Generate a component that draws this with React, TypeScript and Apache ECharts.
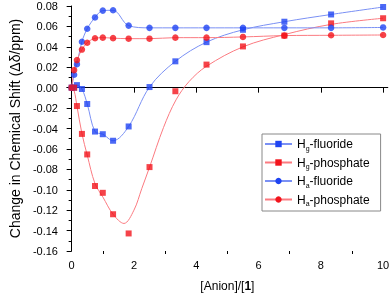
import React, { useEffect, useRef } from 'react';
import * as echarts from 'echarts';

const xValues = [0, 0.08, 0.17, 0.33, 0.5, 0.75, 1.0, 1.33, 1.83, 2.5, 3.33, 4.33, 5.5, 6.83, 8.33, 10];
const hgFluoride = [0, 0, 0.0025, -0.0013, -0.016, -0.043, -0.0456, -0.052, -0.038, 0.0006, 0.0258, 0.0446, 0.0567, 0.0646, 0.0717, 0.079];
const hgPhosphate = [0, 0, -0.018, -0.0453, -0.0654, -0.0963, -0.103, -0.124, -0.1428, -0.0778, -0.0035, 0.0226, 0.0404, 0.051, 0.063, 0.068];
const haFluoride = [0, 0.0127, 0.023, 0.045, 0.0577, 0.0688, 0.0755, 0.0758, 0.0608, 0.0586, 0.0586, 0.0586, 0.0586, 0.0586, 0.0586, 0.059];
const haPhosphate = [0, 0.0172, 0.027, 0.0373, 0.044, 0.0484, 0.049, 0.0485, 0.048, 0.048, 0.049, 0.049, 0.0497, 0.051, 0.0513, 0.0516];

// fitted curve of Hg-phosphate
const hgPhosphateFitX = [0, 0.08, 0.17, 0.33, 0.5, 0.75, 1.0, 1.33, 1.68, 2.0, 2.25, 2.5, 2.95, 3.35, 3.77, 4.33, 5.5, 6.83, 8.33, 10];
const hgPhosphateFitY = [0, -0.003, -0.018, -0.045, -0.066, -0.094, -0.107, -0.124, -0.133, -0.12, -0.099, -0.078, -0.039, -0.012, 0.006, 0.021, 0.04, 0.052, 0.062, 0.068];

const seriesNames = ['Hg-fluoride', 'Hg-phosphate', 'Ha-fluoride', 'Ha-phosphate'];
const xMajorTicks = [0, 2, 4, 6, 8, 10];
const xMinorTicks = [1, 3, 5, 7, 9];

const FONT = "'Liberation Sans', Arial, sans-serif";
const BLUE = '#1f44f2';
const RED = '#f2141c';
const BLUE_LINE = '#7a90f4';
const RED_LINE = '#fb7a80';

const zip = (xs: number[], ys: number[]) => xs.map((x, i) => [x, ys[i]]);

export default function App() {
  const ref = useRef<HTMLDivElement>(null);
  useEffect(() => {
    if (!ref.current) return;
    const chart = echarts.init(ref.current, undefined, { renderer: 'svg' });
    const defs = [
      { name: seriesNames[0], line: zip(xValues, hgFluoride), pts: zip(xValues, hgFluoride), sym: 'rect', c: BLUE, lc: BLUE_LINE },
      { name: seriesNames[1], line: zip(hgPhosphateFitX, hgPhosphateFitY), pts: zip(xValues, hgPhosphate), sym: 'rect', c: RED, lc: RED_LINE },
      { name: seriesNames[2], line: zip(xValues, haFluoride), pts: zip(xValues, haFluoride), sym: 'circle', c: BLUE, lc: BLUE_LINE },
      { name: seriesNames[3], line: zip(xValues, haPhosphate), pts: zip(xValues, haPhosphate), sym: 'circle', c: RED, lc: RED_LINE },
    ];
    const series: any[] = [];
    defs.forEach((d) => {
      series.push({
        type: 'line',
        name: d.name,
        data: d.line,
        smooth: 0.35,
        showSymbol: false,
        symbol: d.sym,
        lineStyle: { color: d.lc, width: 1 },
        itemStyle: { color: d.c },
        z: 2,
      });
    });
    defs.forEach((d) => {
      series.push({
        type: 'scatter',
        data: d.pts,
        symbol: d.sym,
        symbolSize: d.sym === 'rect' ? 6 : 6.5,
        itemStyle: { color: d.c },
        z: 3,
      });
    });
    chart.setOption({
      animation: false,
      textStyle: { fontFamily: FONT },
      grid: { left: 51, right: 2, top: 6, bottom: 41, containLabel: false },
      legend: {
        data: seriesNames,
        orient: 'vertical',
        left: 262,
        top: 134,
        itemWidth: 27,
        itemHeight: 8,
        itemGap: 5,
        padding: [4, 11, 4, 2],
        borderColor: '#888',
        borderWidth: 1,
        backgroundColor: '#fff',
        formatter: (n: string) => n.replace(/^H(g|a)/, 'H{sub|$1}'),
        textStyle: {
          fontFamily: FONT,
          fontSize: 12,
          color: '#000',
          rich: {
            sub: { fontSize: 7, fontFamily: FONT, color: '#000', padding: [8, 0, 0, 0] },
          },
        },
      },
      xAxis: [
        {
          type: 'value',
          min: -0.15,
          max: 10.15,
          position: 'bottom',
          splitLine: { show: false },
          axisLine: { lineStyle: { color: '#000', width: 1 } },
          axisTick: { length: 5, customValues: xMajorTicks, lineStyle: { color: '#000' } },
          axisLabel: { customValues: xMajorTicks, fontSize: 11, color: '#000', margin: 8, fontFamily: FONT },
          name: '[Anion]/[{b|1}]',
          nameLocation: 'middle',
          nameGap: 29,
          nameTextStyle: {
            fontSize: 12,
            color: '#000',
            fontFamily: FONT,
            rich: { b: { fontSize: 12, fontWeight: 'bold', color: '#000', fontFamily: FONT } },
          },
        },
        {
          type: 'value',
          min: -0.15,
          max: 10.15,
          position: 'bottom',
          offset: 0,
          splitLine: { show: false },
          axisLine: { show: false },
          axisTick: { length: 3, customValues: xMinorTicks, lineStyle: { color: '#000' } },
          axisLabel: { show: false },
        },
      ],
      yAxis: {
        type: 'value',
        min: -0.16,
        max: 0.08,
        interval: 0.02,
        splitLine: { show: false },
        axisLine: { show: true, lineStyle: { color: '#000', width: 1 } },
        axisTick: { show: true, length: 5, lineStyle: { color: '#000' } },
        minorTick: { show: true, splitNumber: 2, length: 3, lineStyle: { color: '#000' } },
        axisLabel: {
          fontSize: 11,
          color: '#000',
          margin: 9,
          fontFamily: FONT,
          formatter: (v: number) => v.toFixed(2),
        },
        name: 'Change in Chemical Shift (Δδ/ppm)',
        nameLocation: 'middle',
        nameGap: 44,
        nameTextStyle: { fontSize: 14, color: '#000', fontFamily: FONT },
      },
      series,
    });
    return () => chart.dispose();
  }, []);
  return <div ref={ref} style={{ position: 'fixed', left: 0, top: 0, width: 392, height: 297 }} />;
}
